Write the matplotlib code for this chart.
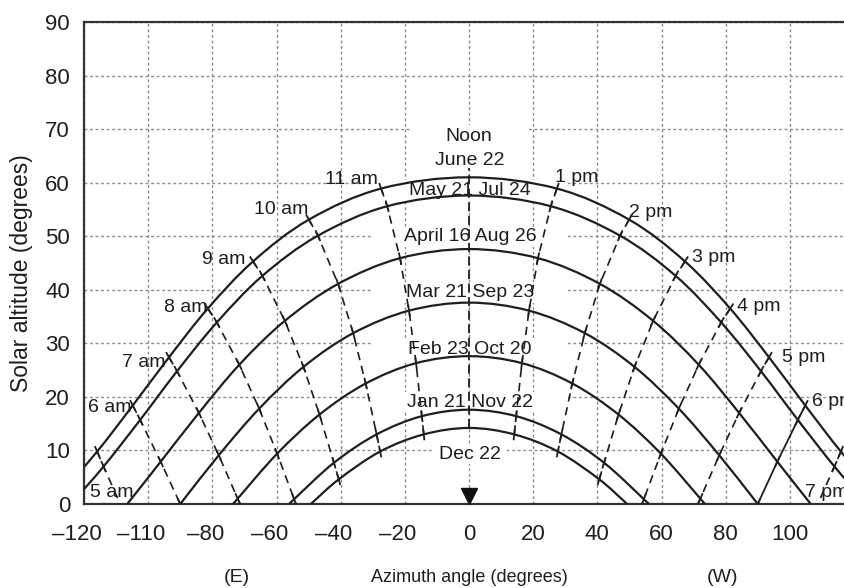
import numpy as np
import matplotlib.pyplot as plt
import matplotlib.transforms as mtransforms
from matplotlib.path import Path
from matplotlib.patches import PathPatch, Rectangle

plt.rcParams['font.family'] = ['Liberation Sans', 'DejaVu Sans']

# sun position on each solar hour: azimuth from south (+ = west) and altitude, degrees
jun_hr = [4, 5, 6, 7, 8, 9, 10, 11, 12, 13, 14, 15, 16, 17, 18, 19, 20]
jun_az = [-127.3, -115.9, -104.8, -93.5, -81.4, -67.3, -49.9, -27.4, 0.0,
          27.4, 49.9, 67.3, 81.4, 93.5, 104.8, 115.9, 127.3]
jun_alt = [2.0, 9.8, 18.4, 27.4, 36.5, 45.3, 53.1, 58.9, 61.0,
           58.9, 53.1, 45.3, 36.5, 27.4, 18.4, 9.8, 2.0]
jun_rise = 130.7

may_hr = [5, 6, 7, 8, 9, 10, 11, 12, 13, 14, 15, 16, 17, 18, 19]
may_az = [-113.9, -102.5, -91.0, -78.6, -64.4, -47.1, -25.5, 0.0,
          25.5, 47.1, 64.4, 78.6, 91.0, 102.5, 113.9]
may_alt = [7.0, 15.7, 24.8, 33.9, 42.6, 50.1, 55.6, 57.6,
           55.6, 50.1, 42.6, 33.9, 24.8, 15.7, 7.0]
may_rise = 124.1

apr_hr = [6, 7, 8, 9, 10, 11, 12, 13, 14, 15, 16, 17, 18]
apr_az = [-96.1, -84.2, -71.6, -57.4, -40.8, -21.5, 0.0,
          21.5, 40.8, 57.4, 71.6, 84.2, 96.1]
apr_alt = [7.9, 17.0, 26.0, 34.2, 41.1, 45.9, 47.6,
           45.9, 41.1, 34.2, 26.0, 17.0, 7.9]
apr_rise = 106.5

mar_hr = [6, 7, 8, 9, 10, 11, 12, 13, 14, 15, 16, 17, 18]
mar_az = [-90.0, -78.0, -65.4, -51.6, -36.1, -18.7, 0.0,
          18.7, 36.1, 51.6, 65.4, 78.0, 90.0]
mar_alt = [0.0, 9.1, 17.8, 25.6, 31.9, 36.1, 37.6,
           36.1, 31.9, 25.6, 17.8, 9.1, 0.0]
mar_rise = 90.0

feb_hr = [7, 8, 9, 10, 11, 12, 13, 14, 15, 16, 17]
feb_az = [-72.1, -59.8, -46.6, -32.2, -16.5, 0.0, 16.5, 32.2, 46.6, 59.8, 72.1]
feb_alt = [1.0, 9.4, 16.7, 22.5, 26.3, 27.6, 26.3, 22.5, 16.7, 9.4, 1.0]
feb_rise = 73.5

jan_hr = [8, 9, 10, 11, 12, 13, 14, 15, 16]
jan_az = [-54.5, -42.1, -28.8, -14.7, 0.0, 14.7, 28.8, 42.1, 54.5]
jan_alt = [0.9, 7.7, 13.0, 16.4, 17.6, 16.4, 13.0, 7.7, 0.9]
jan_rise = 55.9

dec_hr = [9, 10, 11, 12, 13, 14, 15]
dec_az = [-40.6, -27.7, -14.1, 0.0, 14.1, 27.7, 40.6]
dec_alt = [4.6, 9.8, 13.0, 14.2, 13.0, 9.8, 4.6]
dec_rise = 49.3

# hour lines that run on down to the horizon
end_hr = [5, 7, 8, 16, 17, 19]
end_az = [-108.7, -71.3, -53.9, 53.9, 71.3, 108.7]

date_labels = ['June 22', 'May 21 Jul 24', 'April 16 Aug 26', 'Mar 21 Sep 23',
               'Feb 23 Oct 20', 'Jan 21 Nov 22', 'Dec 22']
date_label_y = [64.2, 58.6, 49.9, 39.4, 28.8, 19.0, 9.3]

hour_labels = ['5 am', '6 am', '7 am', '8 am', '9 am', '10 am', '11 am',
               '1 pm', '2 pm', '3 pm', '4 pm', '5 pm', '6 pm', '7 pm']
hour_label_x = [-111.3, -112.0, -101.3, -88.2, -76.4, -58.6, -36.5,
                33.7, 56.7, 76.4, 90.4, 104.4, 107.0, 104.7]
hour_label_y = [2.1, 18.1, 26.5, 36.6, 45.6, 54.9, 60.5,
                60.9, 54.5, 46.1, 36.8, 27.3, 19.1, 2.1]

xticks = [-120, -100, -80, -60, -40, -20, 0, 20, 40, 60, 80, 100]
xtick_labels = ['–120', '–110', '–80', '–60', '–40', '–20', '0', '20', '40', '60', '80', '100']
yticks = [0, 10, 20, 30, 40, 50, 60, 70, 80, 90]

curves = [(jun_hr, jun_az, jun_alt, jun_rise),
          (may_hr, may_az, may_alt, may_rise),
          (apr_hr, apr_az, apr_alt, apr_rise),
          (mar_hr, mar_az, mar_alt, mar_rise),
          (feb_hr, feb_az, feb_alt, feb_rise),
          (jan_hr, jan_az, jan_alt, jan_rise),
          (dec_hr, dec_az, dec_alt, dec_rise)]

ink = '#1e1e1e'
fs = 14       # labels inside the plot
fs_tick = 16


def smooth_path(x, y):
    # Catmull-Rom through the points, written as cubic Bezier pieces
    p = np.column_stack([x, y]).astype(float)
    e = np.vstack([2 * p[0] - p[1], p, 2 * p[-1] - p[-2]])
    verts, codes = [p[0]], [Path.MOVETO]
    for i in range(1, len(e) - 2):
        p0, p1, p2, p3 = e[i - 1], e[i], e[i + 1], e[i + 2]
        verts += [p1 + (p2 - p0) / 6, p2 - (p3 - p1) / 6, p2]
        codes += [Path.CURVE4] * 3
    return Path(verts, codes)


fig = plt.figure(figsize=(8.44, 5.88), dpi=100)
ax = fig.add_axes([84 / 844, 84 / 588, 770 / 844, 482 / 588])
ax.set_xlim(-120, 120)
ax.set_ylim(0, 90)

ax.set_xticks(xticks)
ax.set_xticklabels([])
ax.set_yticks(yticks)
ax.set_yticklabels([str(v) for v in yticks], fontsize=fs_tick, color=ink)
ax.tick_params(length=0)
ax.tick_params(axis='y', pad=10)
ax.grid(True, color='#8a8a8a', linestyle=(0, (2, 2)), linewidth=1.0)
ax.set_axisbelow(True)
for s in ax.spines.values():
    s.set_color('#333333')
    s.set_linewidth(1.6)
ax.spines['right'].set_visible(False)

# x tick labels: digits centred on the tick, minus sign hanging to the left
for v, lab in zip(xticks, xtick_labels):
    off = mtransforms.ScaledTranslation(-0.07 if v < 0 else 0, -0.31, fig.dpi_scale_trans)
    tr = mtransforms.blended_transform_factory(ax.transData, ax.transAxes) + off
    ax.text(v, 0, lab, transform=tr, ha='center', va='center', fontsize=fs_tick, color=ink)

# white patches behind the date labels
for lab, y in zip(date_labels, date_label_y):
    if lab == 'June 22':
        ax.add_patch(Rectangle((-18, 62.4), 36, 8.3, color='white', zorder=1, lw=0))
    elif lab == 'Dec 22':
        ax.add_patch(Rectangle((-11, y - 1.9), 22, 3.8, color='white', zorder=1, lw=0))
    else:
        ax.add_patch(Rectangle((-30, y - 1.9), 61, 3.8, color='white', zorder=1, lw=0))

# day paths
for hr, az, alt, rise in curves:
    x, y = list(az), list(alt)
    if x[0] > -rise:
        x = [-rise] + x
        y = [0.0] + y
    if x[-1] < rise:
        x = x + [rise]
        y = y + [0.0]
    ax.add_patch(PathPatch(smooth_path(x, y), fill=False, edgecolor=ink, lw=1.6, zorder=3))

# hour lines, gathered hour by hour across the day paths
hour_pts = {}
for hr, az, alt, rise in curves:
    for h, a, b in zip(hr, az, alt):
        hour_pts.setdefault(h, []).append((a, b))
for h, a in zip(end_hr, end_az):
    hour_pts[h].append((a, 0.0))

to_px = ax.transData
for h, pts in hour_pts.items():
    if len(pts) < 2:
        continue
    xs = [p[0] for p in pts]
    ys = [p[1] for p in pts]
    if h == 12:
        ax.plot([0, 0], [min(ys), max(ys) + 1.8], color=ink, lw=1.3,
                linestyle=(0, (5, 2.5)), zorder=3)
        continue
    ls = '-' if h == 18 else (0, (5, 3.5))
    ax.plot(xs, ys, color=ink, lw=1.3 if h == 18 else 1.2, linestyle=ls, zorder=3)
    # small solid marks where the hour line meets a day path
    pix = to_px.transform(np.column_stack([xs, ys]))
    for i in range(len(pts)):
        if i == len(pts) - 1 and h in end_hr:
            continue
        j0, j1 = max(i - 1, 0), min(i + 1, len(pts) - 1)
        d = pix[j1] - pix[j0]
        d = d / np.hypot(*d) * 5.0
        seg = to_px.inverted().transform(np.vstack([pix[i] - d, pix[i] + d]))
        ax.plot(seg[:, 0], seg[:, 1], color=ink, lw=1.3, zorder=3)

# noon marker on the horizon
mk = mtransforms.ScaledTranslation(0, 6 / 72, fig.dpi_scale_trans)
ax.plot([0], [0], marker='v', ms=12, color='#111111', transform=ax.transData + mk,
        clip_on=False, zorder=4)

# labels
ax.text(0, 68.7, 'Noon', ha='center', va='center', fontsize=fs, color=ink, zorder=5)
for lab, y in zip(date_labels, date_label_y):
    ax.text(0.3, y, lab, ha='center', va='center', fontsize=fs, color=ink, zorder=5)
for lab, x, y in zip(hour_labels, hour_label_x, hour_label_y):
    ha = 'left' if lab in ('6 pm', '7 pm') else 'center'
    ax.text(x, y, lab, ha=ha, va='center', fontsize=fs, color=ink, zorder=5)

fig.text(469 / 844, 1 - 577 / 588, 'Azimuth angle (degrees)', ha='center', va='center',
         fontsize=13, color=ink)
fig.text(237 / 844, 1 - 577 / 588, '(E)', ha='center', va='center', fontsize=14, color=ink)
fig.text(722 / 844, 1 - 577 / 588, '(W)', ha='center', va='center', fontsize=14, color=ink)
fig.text(22 / 844, 1 - 273 / 588, 'Solar altitude (degrees)', ha='center', va='center',
         rotation=90, fontsize=16.5, color=ink)

fig.savefig('out.png', dpi=100)
